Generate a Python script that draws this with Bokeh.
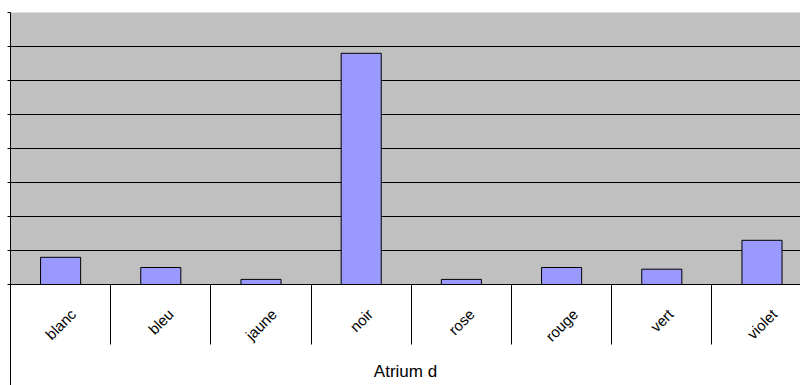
import math
from bokeh.plotting import figure
from bokeh.models import Range1d, FixedTicker, ColumnDataSource, LinearAxis
from bokeh.embed import file_html
from bokeh.resources import INLINE

categories = ["blanc", "bleu", "jaune", "noir", "rose", "rouge", "vert", "violet"]
counts = [16, 10, 3, 136, 3, 10, 9, 26]
y_ticks = [0, 20, 40, 60, 80, 100, 120, 140, 160]
axis_title = "Atrium d"

LABEL_PX = 15
# approximate Liberation Sans advance widths (em), used only to centre the rotated labels
_adv = {'a': .556, 'b': .556, 'c': .5, 'e': .556, 'g': .556, 'i': .222, 'j': .222,
        'l': .222, 'n': .556, 'o': .556, 'r': .333, 's': .5, 't': .278, 'u': .556, 'v': .5}
CAT_PX = 100.2


def label_shift(name):
    w = sum(_adv.get(ch, .55) for ch in name) * LABEL_PX
    return w * 0.3536 / CAT_PX


centers = [i + 0.5 for i in range(len(categories))]
bounds = [i for i in range(len(categories) + 1)]
label_pos = [c + label_shift(n) for c, n in zip(centers, categories)]

p = figure(width=800, height=385, output_backend="svg", toolbar_location=None,
           x_range=Range1d(0, 790 / CAT_PX), y_range=Range1d(0, 160),
           min_border_left=10, min_border_right=0, min_border_top=12, min_border_bottom=100)
p.background_fill_color = "#C0C0C0"
p.border_fill_color = "white"
p.outline_line_color = None

src = ColumnDataSource(dict(x=centers, top=counts))
p.vbar(x="x", top="top", width=0.4, bottom=0, source=src,
       fill_color="#9999FF", line_color="black", line_width=1)

# grid
p.xgrid.visible = False
p.ygrid.ticker = FixedTicker(ticks=y_ticks[1:-1])
p.ygrid.grid_line_color = "black"
p.ygrid.grid_line_width = 1

# y axis: only small tick marks, no labels
p.yaxis.ticker = FixedTicker(ticks=[], minor_ticks=y_ticks)
p.yaxis.major_tick_out = 0
p.yaxis.major_tick_in = 0
p.yaxis.minor_tick_out = 3
p.yaxis.minor_tick_in = 0
p.yaxis.minor_tick_line_color = "black"
p.yaxis.axis_line_color = "black"

# x axis
p.xaxis.ticker = FixedTicker(ticks=label_pos, minor_ticks=bounds)
p.xaxis.major_label_overrides = {pos: n for pos, n in zip(label_pos, categories)}
p.xaxis.major_tick_out = 0
p.xaxis.major_tick_in = 0
p.xaxis.major_tick_line_color = None
p.xaxis.minor_tick_out = 60
p.xaxis.minor_tick_in = 0
p.xaxis.minor_tick_line_color = "black"
p.xaxis.axis_line_color = "black"
p.xaxis.major_label_orientation = math.pi / 4
p.xaxis.major_label_text_font = "Liberation Sans"
p.xaxis.major_label_text_font_size = f"{LABEL_PX}px"
p.xaxis.major_label_text_color = "black"
p.xaxis.major_label_standoff = -33
p.xaxis.axis_label = axis_title
p.xaxis.axis_label_text_font = "Liberation Sans"
p.xaxis.axis_label_text_font_size = "17px"
p.xaxis.axis_label_text_font_style = "normal"
p.xaxis.axis_label_text_color = "black"
p.xaxis.axis_label_standoff = 8

# outer axis only used to continue the left border line down to the bottom
edge = LinearAxis(ticker=FixedTicker(ticks=[], minor_ticks=[0]),
                  axis_line_color=None, major_tick_line_color=None,
                  major_tick_out=0, major_tick_in=0,
                  minor_tick_in=70, minor_tick_out=2, minor_tick_line_color="black")
p.add_layout(edge, "below")

open("out.html", "w").write(file_html(p, INLINE))
